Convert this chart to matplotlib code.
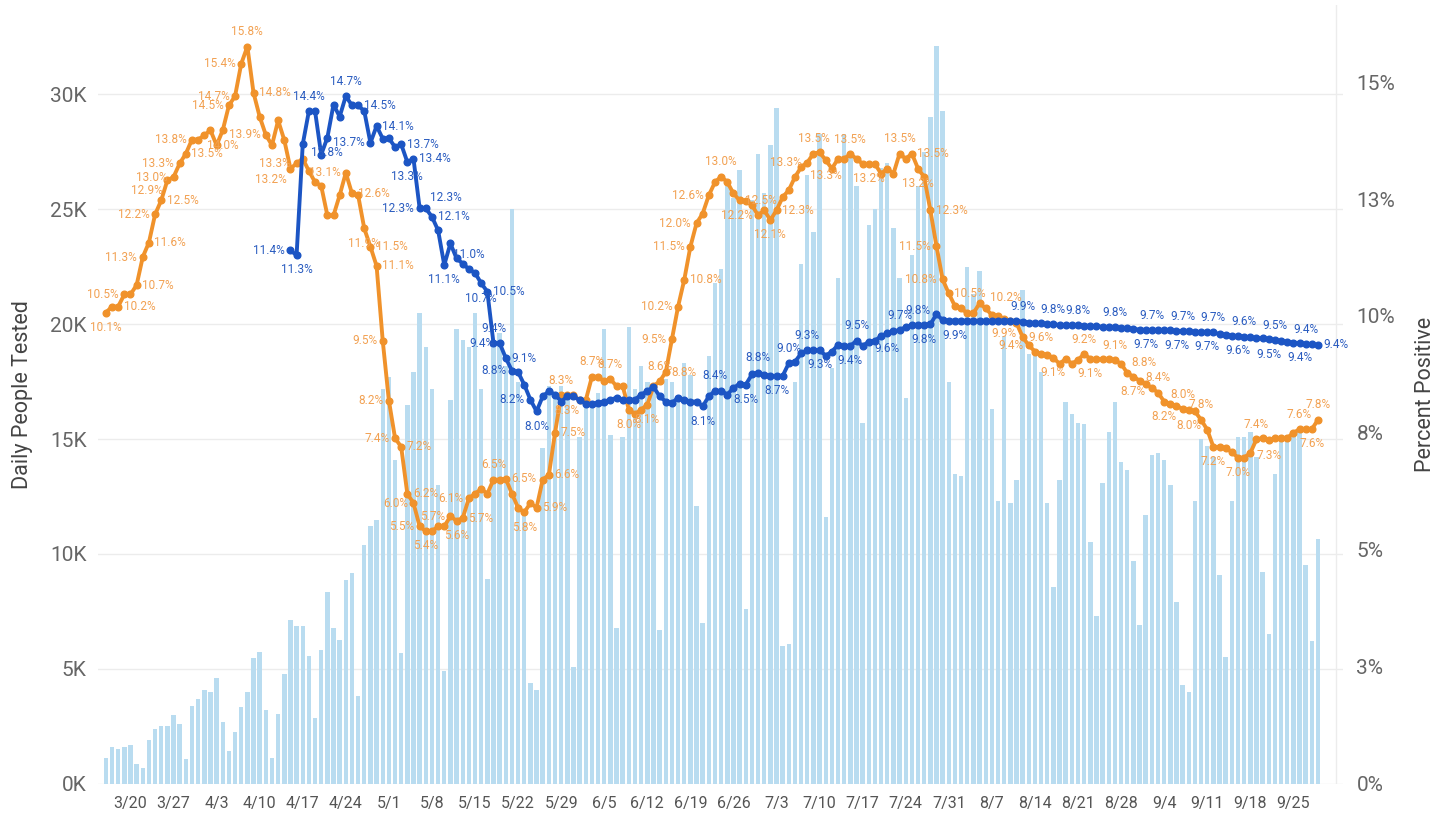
import numpy as np
import matplotlib.pyplot as plt
from datetime import date

plt.rcParams['font.family'] = ['Roboto', 'DejaVu Sans']

start = date(2020, 3, 16)

# daily people tested (thousands), 3/16 .. 9/29
tested_k = [
    1.1, 1.6, 1.5, 1.6, 1.7, 0.87, 0.68, 1.9, 2.4, 2.5, 2.5, 3.0, 2.6, 1.07,
    3.4, 3.7, 4.06, 4.0, 4.6, 2.7, 1.43, 2.27, 3.36, 4.0, 5.46, 5.72, 3.2, 1.1,
    3.04, 4.78, 7.13, 6.87, 6.87, 5.54, 2.84, 5.8, 8.36, 6.77, 6.26, 8.87, 9.19, 3.83,
    10.4, 11.2, 11.5, 17.2, 17.7, 14.1, 5.7, 16.5, 17.9, 20.5, 19.0, 17.2, 13.0, 4.9,
    16.7, 19.8, 19.3, 19.0, 20.5, 17.2, 8.9, 19.3, 19.6, 18.2, 25.0, 17.5, 11.9, 4.4,
    4.1, 14.6, 17.3, 17.0, 17.3, 16.8, 5.1, 15.1, 16.8, 16.6, 17.0, 19.8, 15.2, 6.8,
    15.1, 19.9, 17.2, 18.2, 17.5, 17.4, 6.7, 17.6, 17.5, 16.7, 18.3, 17.8, 12.1, 7.0,
    18.6, 21.8, 22.4, 26.0, 25.5, 26.7, 7.6, 25.4, 27.4, 25.7, 27.8, 29.4, 6.0, 6.1,
    17.5, 22.6, 26.5, 24.0, 28.3, 11.6, 18.1, 22.0, 28.3, 27.5, 26.0, 15.7, 24.3, 25.0,
    26.8, 27.0, 24.2, 22.0, 16.8, 23.0, 26.0, 27.5, 29.0, 32.1, 29.3, 17.5, 13.5, 13.4,
    22.5, 21.3, 22.3, 20.3, 16.3, 12.3, 19.5, 12.2, 13.2, 21.5, 18.7, 18.6, 17.9, 12.2,
    8.55, 13.2, 16.6, 16.1, 15.7, 15.65, 10.5, 7.3, 13.1, 15.3, 16.6, 14.0, 13.65, 9.7,
    6.9, 11.7, 14.3, 14.4, 14.1, 13.0, 7.9, 4.3, 4.0, 12.3, 15.0, 14.7, 14.2, 9.1,
    5.5, 12.3, 15.1, 15.1, 15.3, 14.2, 9.2, 6.5, 13.5, 15.2, 15.2, 15.2, 15.5, 9.5,
    6.2, 10.65,
]

# percent positive (orange), 3/16 .. 9/29
pct_daily = [
    10.07, 10.2, 10.2, 10.46, 10.46, 10.66, 11.26, 11.57, 12.17, 12.47, 12.9, 12.97, 13.26, 13.47,
    13.77, 13.77, 13.86, 13.97, 13.65, 13.97, 14.5, 14.7, 15.39, 15.76, 14.77, 14.26, 13.87, 13.65,
    14.18, 13.76, 13.15, 13.26, 13.36, 13.1, 12.86, 12.78, 12.15, 12.15, 12.58, 13.06, 12.62, 12.58,
    11.87, 11.48, 11.07, 9.47, 8.19, 7.39, 7.2, 6.2, 6.0, 5.5, 5.4, 5.4, 5.5, 5.5,
    5.72, 5.62, 5.68, 6.1, 6.2, 6.3, 6.2, 6.5, 6.5, 6.52, 6.2, 5.9, 5.8, 6.0,
    5.9, 6.5, 6.6, 7.5, 8.3, 8.3, 8.3, 8.2, 8.2, 8.7, 8.7, 8.6, 8.65, 8.5,
    8.5, 8.0, 7.9, 8.0, 8.1, 8.5, 8.6, 8.8, 9.5, 10.2, 10.77, 11.48, 11.98, 12.19,
    12.58, 12.86, 12.98, 12.86, 12.62, 12.47, 12.46, 12.37, 12.15, 12.26, 12.05, 12.26, 12.54, 12.69,
    12.97, 13.18, 13.28, 13.47, 13.5, 13.33, 13.15, 13.36, 13.36, 13.46, 13.36, 13.25, 13.25, 13.25,
    13.04, 13.15, 13.04, 13.47, 13.36, 13.47, 13.15, 12.97, 12.26, 11.49, 10.78, 10.48, 10.21, 10.16,
    10.06, 10.06, 10.27, 10.16, 10.02, 10.0, 9.94, 9.9, 9.85, 9.55, 9.37, 9.24, 9.19, 9.17,
    9.1, 8.98, 9.08, 8.98, 9.06, 9.19, 9.08, 9.08, 9.08, 9.08, 9.05, 8.98, 8.78, 8.7,
    8.62, 8.55, 8.46, 8.36, 8.17, 8.12, 8.08, 8.01, 7.98, 7.96, 7.78, 7.57, 7.2, 7.2,
    7.18, 7.09, 6.97, 6.97, 7.07, 7.36, 7.39, 7.34, 7.39, 7.39, 7.39, 7.5, 7.58, 7.58,
    7.58, 7.78,
]

# second percent series (blue), 4/15 .. 9/29
blue_start = 30
pct_blue = [
    11.4, 11.3, 13.67, 14.38, 14.38, 13.45, 13.81, 14.52, 14.26, 14.7, 14.5, 14.5, 14.38, 13.7,
    14.06, 13.79, 13.8, 13.61, 13.67, 13.29, 13.36, 12.3, 12.3, 12.12, 11.83, 11.09, 11.55, 11.23,
    11.12, 11.0, 10.92, 10.7, 10.52, 9.42, 9.42, 9.1, 8.83, 8.8, 8.53, 8.21, 7.96, 8.28,
    8.39, 8.32, 8.17, 8.28, 8.28, 8.2, 8.12, 8.12, 8.14, 8.17, 8.21, 8.25, 8.2, 8.21,
    8.21, 8.32, 8.39, 8.49, 8.28, 8.17, 8.14, 8.25, 8.21, 8.17, 8.17, 8.07, 8.28, 8.4,
    8.4, 8.32, 8.46, 8.55, 8.53, 8.75, 8.79, 8.74, 8.72, 8.72, 8.72, 8.99, 9.02, 9.2,
    9.27, 9.27, 9.27, 9.15, 9.24, 9.38, 9.36, 9.36, 9.47, 9.36, 9.45, 9.47, 9.57, 9.63,
    9.67, 9.7, 9.76, 9.81, 9.81, 9.81, 9.82, 10.04, 9.91, 9.9, 9.9, 9.9, 9.9, 9.9,
    9.9, 9.9, 9.9, 9.9, 9.9, 9.9, 9.89, 9.88, 9.86, 9.85, 9.84, 9.83, 9.82, 9.81,
    9.8, 9.8, 9.8, 9.79, 9.79, 9.78, 9.77, 9.76, 9.76, 9.75, 9.74, 9.72, 9.71, 9.7,
    9.7, 9.7, 9.69, 9.69, 9.68, 9.68, 9.67, 9.66, 9.65, 9.66, 9.65, 9.61, 9.6, 9.58,
    9.57, 9.56, 9.54, 9.53, 9.52, 9.5, 9.48, 9.46, 9.45, 9.43, 9.42, 9.4, 9.39, 9.38,
]

week_labels = ['3/20', '3/27', '4/3', '4/10', '4/17', '4/24', '5/1', '5/8', '5/15', '5/22',
               '5/29', '6/5', '6/12', '6/19', '6/26', '7/3', '7/10', '7/17', '7/24', '7/31',
               '8/7', '8/14', '8/21', '8/28', '9/4', '9/11', '9/18', '9/25']

# label placement: index lists per side (a=above, b=below, l=left, r=right, combos = diagonal)
orange_labels = {
    'a': [23, 63, 74, 79, 82, 90, 100, 115, 121, 129, 159, 164, 171, 175, 178, 187, 194, 197],
    'b': [0, 19, 42, 52, 57, 68, 75, 85, 88, 108, 117, 124, 132, 146, 154, 160, 167,
          172, 176, 180, 184, 189, 196],
    'l': [3, 6, 8, 11, 12, 14, 20, 21, 22, 26, 31, 39, 45, 46, 47, 50, 51, 56, 59, 92,
          93, 95, 96, 98, 106, 114, 135, 136, 150],
    'r': [2, 5, 7, 9, 13, 24, 40, 43, 44, 48, 49, 58, 65, 70, 72, 73, 91, 94, 103, 109,
          131, 134, 137, 149],
    'bl': [10, 30],
    'ar': [143, 166],
}
blue_labels = {
    'a': [33, 39, 59, 63, 99, 106, 111, 114, 122, 129, 132, 149, 154, 158, 164, 170, 175, 180,
          185, 190, 195],
    'b': [31, 36, 49, 55, 61, 70, 97, 104, 109, 116, 121, 127, 133, 138, 169, 174, 179, 184,
          189, 194],
    'l': [30, 43, 51, 64, 66, 69],
    'r': [41, 44, 48, 50, 53, 62, 65, 197],
    'ar': [52],
}

days = np.arange(len(tested_k))
tick_pos = [(date(2020, int(s.split('/')[0]), int(s.split('/')[1])) - start).days for s in week_labels]

fig = plt.figure(figsize=(14.39, 8.13), dpi=100)
ax = fig.add_axes([0.068, 0.036, 0.865, 0.958])
ax.bar(days, tested_k, width=0.72, color='#b9dcf0', zorder=2)
ax.set_xlim(-1.3, 201)
ax.set_ylim(0, 33.9)
ax.set_yticks([0, 5, 10, 15, 20, 25, 30])
ax.set_yticklabels(['0K', '5K', '10K', '15K', '20K', '25K', '30K'])
ax.set_xticks(tick_pos)
ax.set_xticklabels(week_labels)
ax.set_xticks(tick_pos + [tick_pos[-1] + 7], minor=True)
ax.grid(True, which='minor', axis='x', color='#ececec', lw=1, zorder=0)
ax.grid(True, which='major', axis='y', color='#ececec', lw=1, zorder=0)
ax.tick_params(axis='x', which='both', length=0, labelsize=11.5, labelcolor='#555555', pad=9)
ax.tick_params(axis='y', length=0, labelsize=15, labelcolor='#666666', pad=8)
for s in ax.spines.values():
    s.set_visible(False)
ax.set_ylabel('Daily People Tested', fontsize=15.5, color='#444444', labelpad=12)

ax2 = ax.twinx()
ax2.set_ylim(0, 16.65)
ax2.set_yticks([0, 2.5, 5, 7.5, 10, 12.5, 15])
ax2.set_yticklabels(['0%', '3%', '5%', '8%', '10%', '13%', '15%'])
ax2.tick_params(axis='y', length=0, labelsize=15, labelcolor='#666666', pad=10)
for s in ax2.spines.values():
    s.set_visible(False)
ax2.set_ylabel('Percent Positive', fontsize=15.5, color='#444444', labelpad=14)

orange = '#f0922b'
blue = '#1c55c4'
ax2.plot(days, pct_daily, color=orange, lw=2.8, marker='o', ms=4.8, zorder=3)
bdays = np.arange(blue_start, blue_start + len(pct_blue))
ax2.plot(bdays, pct_blue, color=blue, lw=2.8, marker='o', ms=4.8, zorder=4)

offsets = {'a': ((0, 6), 'center', 'bottom'), 'b': ((0, -6), 'center', 'top'),
           'l': ((-4, 0), 'right', 'center'), 'r': ((4, 0), 'left', 'center'),
           'bl': ((-3, -3), 'right', 'top'), 'ar': ((3, 3), 'left', 'bottom')}


def put_labels(xs, ys, placement, color):
    for side, idx in placement.items():
        off, ha, va = offsets[side]
        for i in idx:
            ax2.annotate(f'{ys[i]:.1f}%', (xs[i], ys[i]), xytext=off, textcoords='offset points',
                         ha=ha, va=va, fontsize=8.5, color=color, zorder=5)


put_labels(days, pct_daily, orange_labels, '#f2a152')
bl = dict(zip(bdays, pct_blue))
bx = list(range(len(tested_k)))
by = [bl.get(i, np.nan) for i in bx]
put_labels(bx, by, blue_labels, '#2a5cc0')

fig.savefig('out.png', dpi=100)
